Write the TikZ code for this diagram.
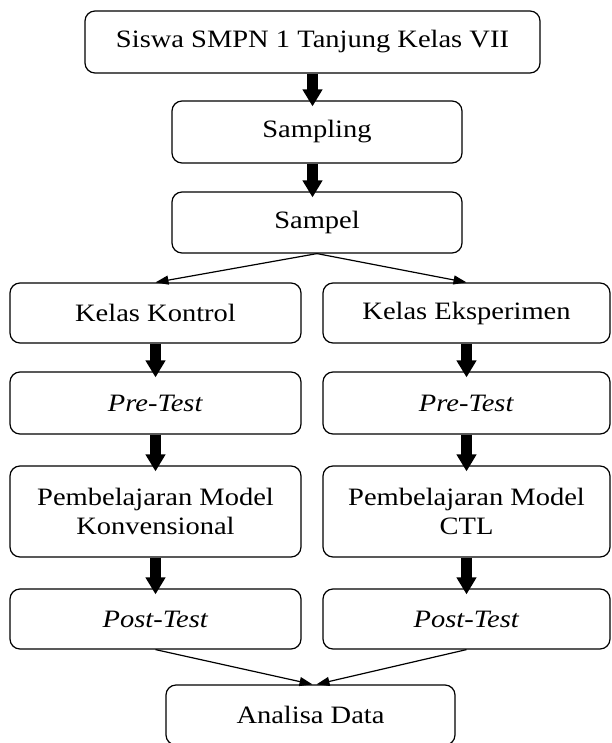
\documentclass[tikz,border=0pt]{standalone}
\usepackage{fontspec}
\setmainfont{Liberation Serif}[FakeStretch=1.14]
\usetikzlibrary{arrows.meta}
\begin{document}
\begin{tikzpicture}[x=1pt,y=1pt]
\tikzstyle{every node}+=[inner sep=0pt]
\tikzstyle{box}=[draw=black, line width=1.2pt, rounded corners=10pt, minimum height=62pt, font=\fontsize{25}{29}\selectfont, align=center]
\tikzstyle{fat}=[line width=11pt, -{Triangle[length=17pt,width=19pt]}, shorten >=-6pt]
\tikzstyle{thin}=[line width=1.2pt, -{Triangle[length=13pt,width=9pt]}]
\useasboundingbox (0,0) rectangle (611,-743);
\node [box, minimum width=455pt] (siswa) at (312.5,-42) {Siswa SMPN 1 Tanjung Kelas VII};
\node [box, minimum width=290pt] (sampling) at (317,-132) {Sampling};
\node [box, minimum width=290pt, minimum height=61pt] (sampel) at (317,-222.5) {Sampel};
\node [box, minimum width=291pt, minimum height=60pt] (kontrol) at (155.5,-313) {Kelas Kontrol};
\node [box, minimum width=287pt, minimum height=60pt] (eksperimen) at (466.5,-313) {Kelas Eksperimen};
\node [box, minimum width=291pt] (pre1) at (155.5,-403) {\textit{Pre-Test}};
\node [box, minimum width=287pt] (pre2) at (466.5,-403) {\textit{Pre-Test}};
\node [box, minimum width=291pt, minimum height=91pt] (model1) at (155.5,-511.5) {Pembelajaran Model\\Konvensional};
\node [box, minimum width=287pt, minimum height=91pt] (model2) at (466.5,-511.5) {Pembelajaran Model\\CTL};
\node [box, minimum width=291pt, minimum height=60pt] (post1) at (155.5,-619) {\textit{Post-Test}};
\node [box, minimum width=287pt, minimum height=60pt] (post2) at (466.5,-619) {\textit{Post-Test}};
\node [box, minimum width=289pt, minimum height=60pt] (analisa) at (310.5,-715) {Analisa Data};
\draw [fat] (siswa.south) -- (siswa.south |- sampling.north);
\draw [fat] (siswa.south |- sampling.south) -- (siswa.south |- sampel.north);
\draw [thin] (sampel.south) -- (kontrol.north);
\draw [thin] (sampel.south) -- (eksperimen.north);
\draw [fat] (kontrol) -- (pre1);
\draw [fat] (pre1) -- (model1);
\draw [fat] (model1) -- (post1);
\draw [fat] (eksperimen) -- (pre2);
\draw [fat] (pre2) -- (model2);
\draw [fat] (model2) -- (post2);
\draw [thin] (post1.south) -- ([xshift=2pt]analisa.north);
\draw [thin] (post2.south) -- ([xshift=6pt]analisa.north);
\end{tikzpicture}
\end{document}
